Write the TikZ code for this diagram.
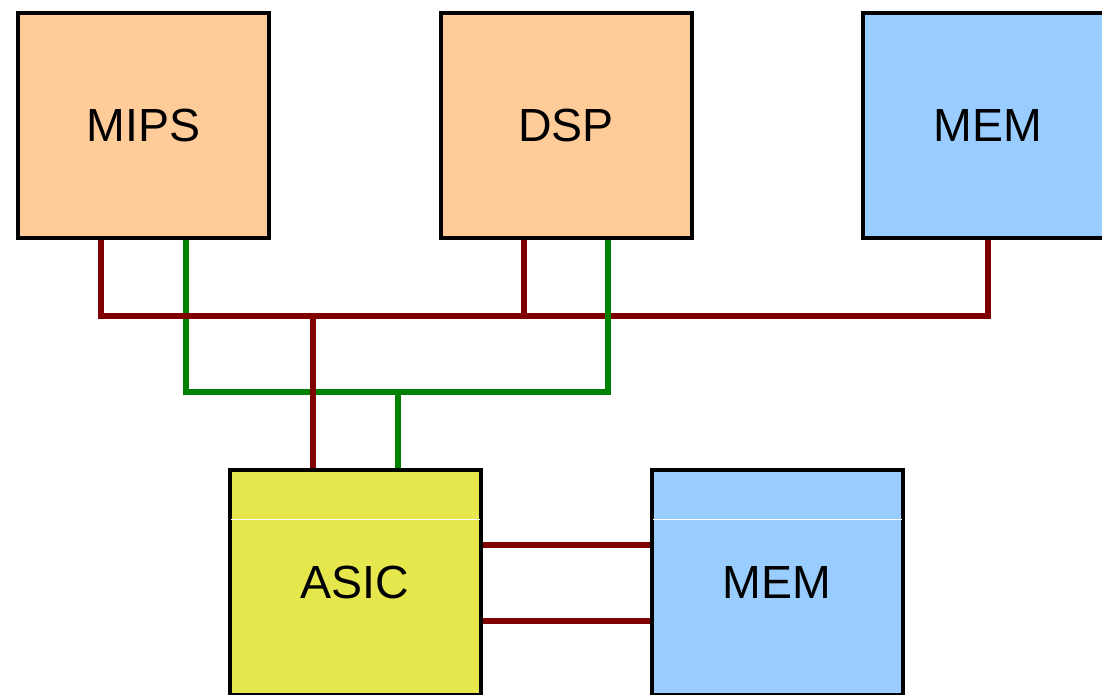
\documentclass[tikz,border=0pt]{standalone}
\usepackage{fontspec}
\setmainfont{Liberation Sans}
\definecolor{peach}{HTML}{FFCC99}
\definecolor{memblue}{HTML}{99CCFF}
\definecolor{asicyellow}{HTML}{E6E64D}
\definecolor{busred}{HTML}{800000}
\definecolor{busgreen}{HTML}{008000}
\tikzset{
  block/.style={draw=black, line width=4pt, minimum width=251pt, minimum height=225pt,
    inner sep=0pt, font=\fontsize{46.5}{50}\selectfont},
  cpu/.style={block, fill=peach},
  memblock/.style={block, fill=memblue},
  asicblock/.style={block, fill=asicyellow},
  redw/.style={draw=busred, line width=6pt},
  greenw/.style={draw=busgreen, line width=6pt},
  divider/.style={draw=white, line width=1pt}
}
\begin{document}
\begin{tikzpicture}[x=1pt,y=-1pt]
\clip (0,0) rectangle (1102,695);
\fill[white] (0,0) rectangle (1102,695);

\node[cpu] (MIPS) at (143.5,125.5) {MIPS};
\node[cpu] (DSP) at (566,125.5) {DSP};
\node[memblock] (MEM) at (988,125.5) {MEM};
\node[asicblock] (ASIC) at (355,582.5) {ASIC};
\node[memblock] (MEM2) at (777,582.5) {MEM};

\draw[divider] ([xshift=3pt,yshift=-51pt]ASIC.north west) -- ([xshift=-3pt,yshift=-51pt]ASIC.north east);
\draw[divider] ([xshift=3pt,yshift=-51pt]MEM2.north west) -- ([xshift=-3pt,yshift=-51pt]MEM2.north east);

% red bus
\draw[redw] ([xshift=-42.5pt]MIPS.south) -- ++(0,76) coordinate (rl) -| (MEM.south);
\draw[redw] ([xshift=-42pt]DSP.south) |- (rl);

% green bus
\draw[greenw] ([xshift=42.5pt]MIPS.south) -- ++(0,152) coordinate (gl) -| ([xshift=42pt]DSP.south);
\draw[greenw] ([xshift=43pt]ASIC.north) |- (gl);

% ASIC red to bus
\draw[redw] ([xshift=-42pt]ASIC.north) |- (rl);

% ASIC to MEM
\draw[redw] ([yshift=-77pt]ASIC.north east) -- ([yshift=-77pt]MEM2.north west);
\draw[redw] ([yshift=-153pt]ASIC.north east) -- ([yshift=-153pt]MEM2.north west);
\end{tikzpicture}
\end{document}
